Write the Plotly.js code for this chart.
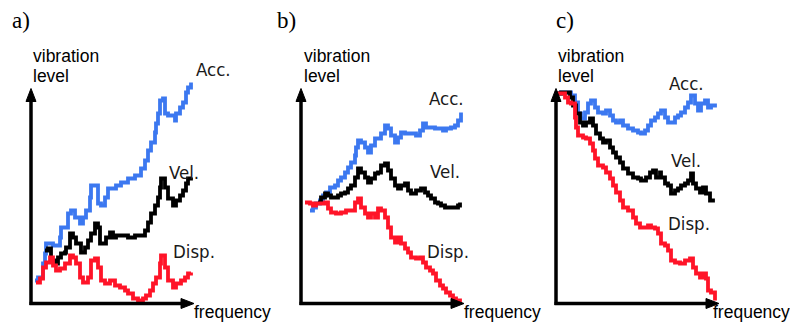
<!DOCTYPE html>
<html>
<head>
<meta charset="utf-8">
<script src="https://cdn.plot.ly/plotly-3.0.1.min.js"></script>
<style>html,body{margin:0;padding:0;background:#fff;}#chart{width:790px;height:329px;}</style>
</head>
<body>
<div id="chart"></div>
<script>
// ---- data (frequency, vibration level) ----
const panelLetters = ['a)', 'b)', 'c)'];
const seriesNames = ['Acc.', 'Vel.', 'Disp.'];
const yTitle = ['vibration', 'level'];
const xTitle = 'frequency';

const aAccX = [4,7,12,14,15,22,29,30,34,37,40,44,49,52,55,59,60,65,67,70,74,77,82,85,90,97,104,110,114,117,120,124,125,127,129,132,134,137,144,145,149,152,155,157,160];
const aAccY = [23,26,40,50,60,58,66,76,76,90,93,86,80,86,93,106,118,118,100,98,106,115,115,118,121,125,128,135,143,153,161,171,180,190,203,205,190,188,183,190,196,201,211,216,221];
const aVelX = [14,17,20,24,27,30,34,35,39,42,45,50,54,57,60,64,67,69,72,75,79,82,85,90,97,104,110,114,117,120,124,127,129,130,134,137,142,145,149,152,155,157,160];
const aVelY = [53,55,43,40,46,50,51,56,70,66,60,51,56,63,70,80,76,60,60,66,71,66,68,68,66,68,68,73,81,90,98,106,116,125,116,105,98,103,108,113,120,125,126];
const aDispX = [5,9,12,15,19,22,25,29,34,39,42,45,49,52,57,60,64,67,70,74,79,84,89,94,97,102,107,112,115,119,122,125,129,130,134,137,142,145,150,154,157,160];
const aDispY = [21,25,36,41,46,38,33,35,40,48,46,40,26,21,26,43,45,36,23,20,23,18,16,13,10,5,3,5,8,13,20,26,40,48,36,23,16,20,23,26,30,31];

const bAccX = [9,12,15,19,22,25,29,34,37,40,44,47,50,54,55,57,60,64,67,70,74,77,80,84,87,90,94,97,100,104,110,115,119,122,125,129,134,139,142,145,150,154,157,160];
const bAccY = [93,96,100,103,108,111,116,118,123,126,131,136,141,148,156,163,161,156,151,158,165,165,170,178,175,168,161,166,171,170,170,168,173,180,176,176,175,175,173,175,176,178,183,191];
const bVelX = [17,20,24,27,30,34,37,40,44,47,50,54,57,60,64,67,70,74,77,80,84,87,90,94,97,100,104,107,110,115,120,124,127,130,134,137,140,144,147,150,154,157,159];
const bVelY = [101,106,110,108,106,106,108,110,111,115,118,126,135,131,126,121,125,130,131,138,140,133,125,118,115,118,120,113,110,113,115,111,108,105,101,100,98,96,96,96,96,98,101];
const bDispX = [4,9,12,15,20,24,27,30,35,40,45,50,54,57,60,64,67,70,74,77,80,84,87,90,94,97,100,104,107,110,115,119,122,125,129,132,135,139,142,145,149,152,155,159];
const bDispY = [101,100,98,100,100,101,95,91,90,91,93,93,101,105,96,90,86,90,86,95,93,86,76,66,61,66,60,55,51,46,45,46,41,36,33,30,23,18,15,11,8,5,3,1];

const cAccX = [0,5,10,15,19,22,25,29,32,35,39,42,47,50,54,57,60,64,67,72,77,82,85,89,92,95,99,102,105,109,112,115,119,122,125,129,132,135,139,142,145,149,152,155,159];
const cAccY = [210,211,211,208,201,190,185,191,200,203,196,191,190,193,188,183,181,183,178,175,173,171,170,173,178,183,186,190,193,186,181,181,186,188,191,196,201,208,200,193,200,203,196,198,200];
const cVelX = [0,5,10,14,17,20,24,27,30,34,37,40,44,47,50,54,57,60,64,67,72,77,82,85,90,94,97,100,104,105,109,112,115,119,122,125,129,132,135,137,140,144,147,150,154,157];
const cVelY = [210,211,211,206,198,190,181,178,181,185,178,170,165,161,163,156,151,146,141,135,130,126,125,123,126,131,133,126,131,126,120,118,110,113,115,118,120,123,130,120,115,111,116,110,103,105];
const cDispX = [0,5,9,12,15,19,20,22,27,30,34,37,39,42,47,50,54,57,60,64,67,72,77,80,84,89,92,95,99,102,105,109,112,115,119,124,129,134,137,140,144,147,150,152,155,159];
const cDispY = [210,210,206,201,200,186,176,168,166,165,160,153,145,138,136,131,125,118,111,103,96,93,86,80,76,76,78,76,75,70,60,58,53,43,41,40,43,45,36,30,26,30,25,13,11,3];

// ---- layout / style ----
const W = 790, H = 329;
const colors = ['#3c78f0', '#000000', '#ff1428'];
const originsX = [31, 301, 556];   // pixel x of each vertical axis
const originY = 303.5;             // pixel y of horizontal axes
const XR = [-8, 172], YR = [-8, 232];

const panels = [
  [[aAccX, aAccY], [aVelX, aVelY], [aDispX, aDispY]],
  [[bAccX, bAccY], [bVelX, bVelY], [bDispX, bDispY]],
  [[cAccX, cAccY], [cVelX, cVelY], [cDispX, cDispY]]
];

const traces = [];
const layout = {
  width: W, height: H,
  margin: {l: 0, r: 0, t: 0, b: 0},
  paper_bgcolor: '#ffffff', plot_bgcolor: 'rgba(0,0,0,0)',
  showlegend: false,
  shapes: [], annotations: []
};

panels.forEach((p, i) => {
  const sfx = i === 0 ? '' : String(i + 1);
  p.forEach((s, j) => {
    traces.push({
      x: s[0], y: s[1], type: 'scatter', mode: 'lines',
      xaxis: 'x' + sfx, yaxis: 'y' + sfx,
      line: {color: colors[j], width: 3.8, shape: 'hv'},
      hoverinfo: 'skip'
    });
  });
  const ox = originsX[i];
  const ax = {range: XR, visible: false, fixedrange: true,
    domain: [(ox + XR[0]) / W, (ox + XR[1]) / W]};
  const ay = {range: YR, visible: false, fixedrange: true,
    domain: [(H - (originY - YR[0])) / H, (H - (originY - YR[1])) / H]};
  layout['xaxis' + sfx] = ax;
  layout['yaxis' + sfx] = ay;
  const xr = 'x' + sfx, yr = 'y' + sfx;
  // axes with arrows
  layout.shapes.push({type: 'line', xref: xr, yref: yr, x0: 0, y0: -1.5, x1: 0, y1: 204, line: {color: '#000', width: 3.5}, layer: 'above'});
  layout.shapes.push({type: 'line', xref: xr, yref: yr, x0: -1.5, y0: 0, x1: 152, y1: 0, line: {color: '#000', width: 3.5}, layer: 'above'});
  layout.shapes.push({type: 'path', xref: xr, yref: yr, path: 'M -5,202 L 5,202 L 0,215 Z', fillcolor: '#000', line: {color: '#000', width: 1}, layer: 'above'});
  layout.shapes.push({type: 'path', xref: xr, yref: yr, path: 'M 150,-5 L 150,5 L 163,0 Z', fillcolor: '#000', line: {color: '#000', width: 1}, layer: 'above'});
});

function ann(text, px, py, size, family, xanchor, color) {
  layout.annotations.push({
    text: text, x: px / W, y: 1 - py / H, xref: 'paper', yref: 'paper',
    xanchor: xanchor || 'left', yanchor: 'middle', showarrow: false,
    font: {size: size, family: family, color: color || '#000'}
  });
}
const sans = 'Liberation Sans, Arial, sans-serif';
const narrow = 'Liberation Sans Narrow, Arial Narrow, DejaVu Sans Condensed, sans-serif';
const serif = 'Liberation Serif, Times New Roman, serif';

const letterX = [10, 275, 554];
const yTitleX = [31, 302, 556];
const xTitleX = [192, 462, 711];
panelLetters.forEach((t, i) => {
  ann(t, letterX[i], 21, 23, serif);
  ann(yTitle[0], yTitleX[i], 56, 17.5, sans);
  ann(yTitle[1], yTitleX[i], 76, 17.5, sans);
  ann(xTitle, xTitleX[i], 312, 17.5, sans);
});
// series labels per panel: [x, y] pixel positions
const labelPos = [
  [[194, 70], [167, 172], [171, 251]],
  [[427, 98], [428, 171], [425, 251]],
  [[667, 83], [669, 160], [666, 223]]
];
labelPos.forEach((pp, i) => {
  pp.forEach((q, j) => ann(seriesNames[j], q[0], q[1], 18.5, narrow, 'left', '#1a1a1a'));
});

Plotly.newPlot('chart', traces, layout, {displayModeBar: false, staticPlot: true});
</script>
</body>
</html>
